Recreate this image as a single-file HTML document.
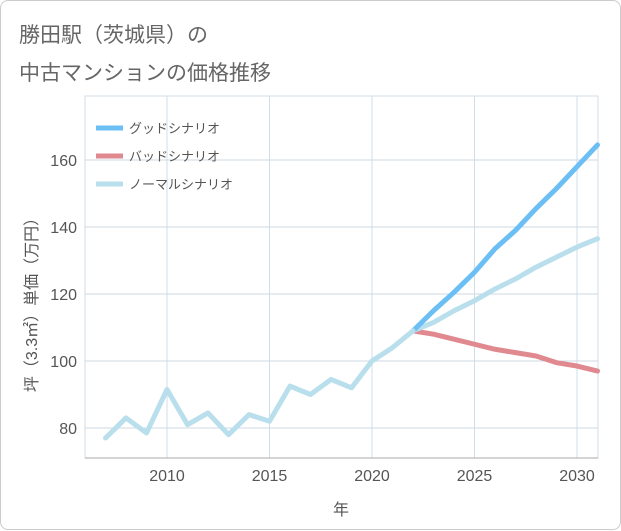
<!DOCTYPE html>
<html><head><meta charset="utf-8">
<style>
body{margin:0;background:#fff;font-family:"Liberation Sans","Noto Sans CJK JP",sans-serif;}
#card{position:absolute;left:0;top:0;width:619px;height:528px;border:1px solid #ccc;border-radius:8px;background:#fff;}
.title{position:absolute;left:18px;font-size:21px;color:#666;}
</style></head><body>
<div id="card">
<div class="title" style="top:18px">勝田駅（茨城県）の</div>
<div class="title" style="top:56px">中古マンションの価格推移</div>
<svg id="chart" width="621" height="530" style="position:absolute;left:0;top:0"></svg>
</div>
<script>
const histYears=[2007,2008,2009,2010,2011,2012,2013,2014,2015,2016,2017,2018,2019,2020,2021,2022];
const histValues=[77,83,78.5,91.5,81,84.5,78,84,82,92.5,90,94.5,92,100,104,109];
const projYears=[2022,2023,2024,2025,2026,2027,2028,2029,2030,2031];
const goodValues=[109,115,120.5,126.5,133.5,139,145.5,151.5,158,164.5];
const normalValues=[109,111.5,115,118,121.5,124.5,128,131,134,136.5];
const badValues=[109,108,106.5,105,103.5,102.5,101.5,99.5,98.5,97];
const xTicks=[2010,2015,2020,2025,2030];
const yTicks=[80,100,120,140,160];
const legendLabels=["グッドシナリオ","バッドシナリオ","ノーマルシナリオ"];
const colors=["#6bbff5","#e08a90","#b9dfec"];

const L=84,R=597,T=95,B=457;
const x=v=>166+(v-2010)*(576-166)/20;
const y=v=>360-(v-100)*(360-159)/60;
const svg=document.getElementById('chart');
const NS='http://www.w3.org/2000/svg';
function mk(tag,attrs){const e=document.createElementNS(NS,tag);for(const k in attrs)e.setAttribute(k,attrs[k]);svg.appendChild(e);return e;}

const plotBg=mk('rect',{x:L,y:T,width:R-L,height:B-T,fill:'#fff',stroke:'#d0dce4'});


xTicks.forEach(t=>{const g=mk('line',{x1:x(t),x2:x(t),y1:T,y2:B,stroke:'#cfdfea','stroke-width':1});

});
yTicks.forEach(t=>{const g=mk('line',{x1:L,x2:R,y1:y(t),y2:y(t),stroke:'#ccd8e0','stroke-width':1});

});
const xa=mk('line',{x1:L,x2:R,y1:B,y2:B,stroke:'#aaa','stroke-width':1});


xTicks.forEach(t=>{const e=mk('text',{x:x(t),y:480,'text-anchor':'middle','font-size':16,fill:'#555'});e.textContent=t;

});
yTicks.forEach(t=>{const e=mk('text',{x:76,y:y(t)+6,'text-anchor':'end','font-size':16,fill:'#555'});e.textContent=t;

});
const xt=mk('text',{x:340,y:514,'text-anchor':'middle','font-size':16,fill:'#555'});xt.textContent='年';


const yt=mk('text',{x:0,y:0,'text-anchor':'middle','font-size':16,fill:'#555',transform:'translate(36,300) rotate(-90)'});yt.textContent='坪（3.3㎡）単価（万円）';



function line(xs,vs,c,name){const p=mk('polyline',{points:xs.map((t,i)=>x(t)+','+y(vs[i])).join(' '),fill:'none',stroke:c,'stroke-width':5,'stroke-linejoin':'round','stroke-linecap':'round'});

}
line(projYears,badValues,colors[1],'bad-scenario-line');
line(projYears,normalValues,colors[2],'normal-scenario-line');
line(projYears,goodValues,colors[0],'good-scenario-line');
line(histYears,histValues,colors[2],'historical-line');

legendLabels.forEach((lab,i)=>{const ly=127+i*28;
const s=mk('line',{x1:95,x2:122,y1:ly,y2:ly,stroke:colors[i],'stroke-width':5});


const t=mk('text',{x:128,y:ly+5,'font-size':13,fill:'#555'});t.textContent=lab;

});
</script>
</body></html>
